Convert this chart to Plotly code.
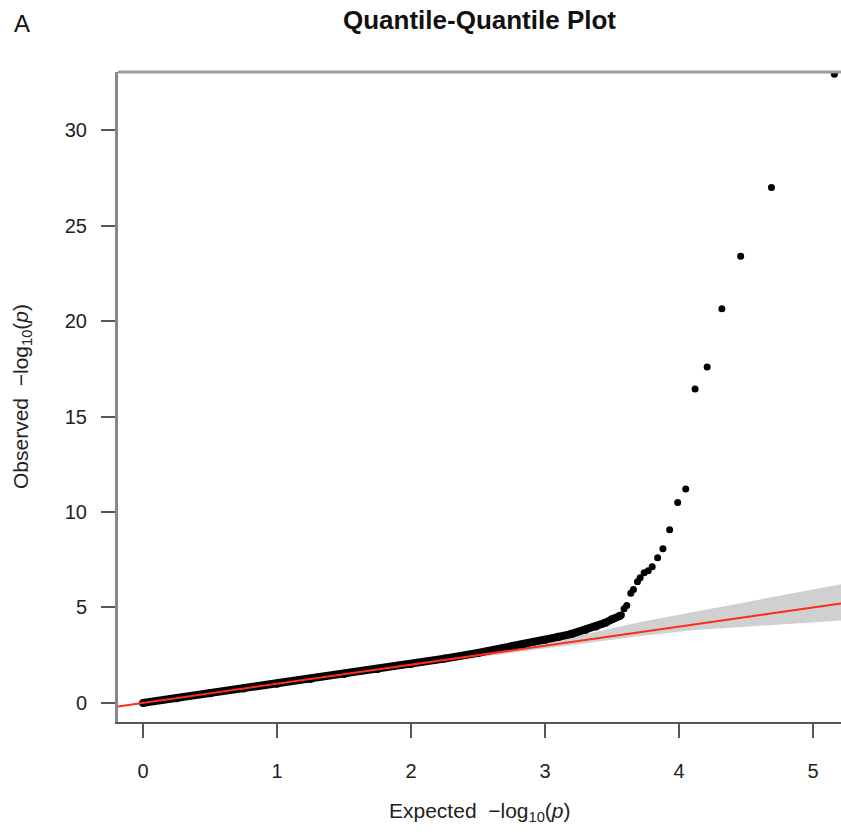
import plotly.graph_objects as go

# Expected vs observed -log10(p) for the bulk of the tests (dense part of the cloud)
bulk_expected = [0.00, 0.25, 0.50, 0.75, 1.00, 1.25, 1.50, 1.75, 2.00, 2.25, 2.50,
                 2.70, 2.85, 3.00, 3.10, 3.20, 3.30, 3.38, 3.45, 3.50, 3.56]
bulk_observed = [0.00, 0.25, 0.50, 0.75, 1.00, 1.25, 1.51, 1.77, 2.04, 2.32, 2.62,
                 2.87, 3.08, 3.30, 3.46, 3.62, 3.82, 4.00, 4.20, 4.38, 4.56]

# Upper tail: the most significant tests
tail_expected = [3.57, 3.59, 3.61, 3.64, 3.66, 3.69, 3.71, 3.74, 3.77, 3.80, 3.84,
                 3.88, 3.93, 3.99, 4.05, 4.12, 4.21, 4.32, 4.46, 4.69, 5.16]
tail_observed = [4.61, 4.93, 5.10, 5.75, 5.94, 6.35, 6.55, 6.82, 6.92, 7.13, 7.60,
                 8.07, 9.07, 10.50, 11.20, 16.45, 17.60, 20.65, 23.40, 27.00, 32.93]

# 95% confidence band around the null expectation
band_expected = [0.00, 1.00, 2.00, 2.50, 3.00, 3.30, 3.73, 4.10, 4.60, 5.00, 5.21]
band_upper = [0.02, 1.04, 2.10, 2.64, 3.20, 3.60, 4.26, 4.75, 5.43, 5.95, 6.22]
band_lower = [0.00, 0.97, 1.93, 2.40, 2.87, 3.12, 3.52, 3.80, 4.05, 4.22, 4.32]

x_ticks = [0, 1, 2, 3, 4, 5]
y_ticks = [0, 5, 10, 15, 20, 25, 30]
x_range = [-0.187, 5.209]
y_range = [-1.0, 33.05]

FONT = "Liberation Sans, Arial, Helvetica, sans-serif"

fig = go.Figure()

# confidence band polygon
fig.add_trace(go.Scatter(
    x=band_expected + band_expected[::-1],
    y=band_upper + band_lower[::-1],
    fill="toself", fillcolor="#d0d0d0",
    line=dict(width=0), mode="lines", hoverinfo="skip", showlegend=False,
))

# dense cloud of points
fig.add_trace(go.Scatter(
    x=bulk_expected, y=bulk_observed, mode="lines+markers",
    line=dict(color="black", width=8),
    marker=dict(color="black", size=8),
    showlegend=False,
))

# tail points
fig.add_trace(go.Scatter(
    x=tail_expected, y=tail_observed, mode="markers",
    marker=dict(color="black", size=7),
    showlegend=False,
))

# y = x reference line across the full axis
fig.add_trace(go.Scatter(
    x=x_range, y=x_range, mode="lines",
    line=dict(color="#ff2a1a", width=2),
    showlegend=False,
))

axis_common = dict(
    showgrid=False, zeroline=False, showline=True,
    ticks="outside", ticklen=14, tickwidth=1.5, tickcolor="#555555",
    tickfont=dict(family=FONT, size=20, color="#222222"),
)

fig.update_layout(
    width=841, height=832,
    margin=dict(l=118, r=0, t=72, b=110),
    paper_bgcolor="white", plot_bgcolor="white",
    font=dict(family=FONT, color="#222222"),
    xaxis=dict(range=x_range, tickvals=x_ticks, linecolor="#555555", linewidth=1.5,
               ticklabelstandoff=16, **axis_common),
    yaxis=dict(range=y_range, tickvals=y_ticks, linecolor="#888888", linewidth=3,
               ticklabelstandoff=10, **axis_common),
    shapes=[dict(type="line", xref="paper", yref="paper", x0=0, x1=1, y0=1, y1=1,
                 line=dict(color="#999999", width=3))],
    annotations=[
        dict(text="<b>Quantile-Quantile Plot</b>", xref="paper", yref="paper",
             x=0.5, y=1.0 + 52 / 650, showarrow=False, xanchor="center", yanchor="middle",
             font=dict(family=FONT, size=26, color="#111111")),
        dict(text="A", xref="paper", yref="paper",
             x=-106 / 723, y=1.0 + 48 / 650, showarrow=False, xanchor="left", yanchor="middle",
             font=dict(family=FONT, size=24, color="#111111")),
        dict(text="Expected  \u2212log<sub>10</sub>(<i>p</i>)", xref="paper", yref="paper",
             x=0.5, y=-90 / 650, showarrow=False, xanchor="center", yanchor="middle",
             font=dict(family=FONT, size=21, color="#222222")),
        dict(text="Observed  \u2212log<sub>10</sub>(<i>p</i>)", xref="paper", yref="paper",
             x=-96 / 723, y=0.5, showarrow=False, xanchor="center", yanchor="middle",
             textangle=-90,
             font=dict(family=FONT, size=21, color="#222222")),
    ],
)

fig.write_html("out.html")
